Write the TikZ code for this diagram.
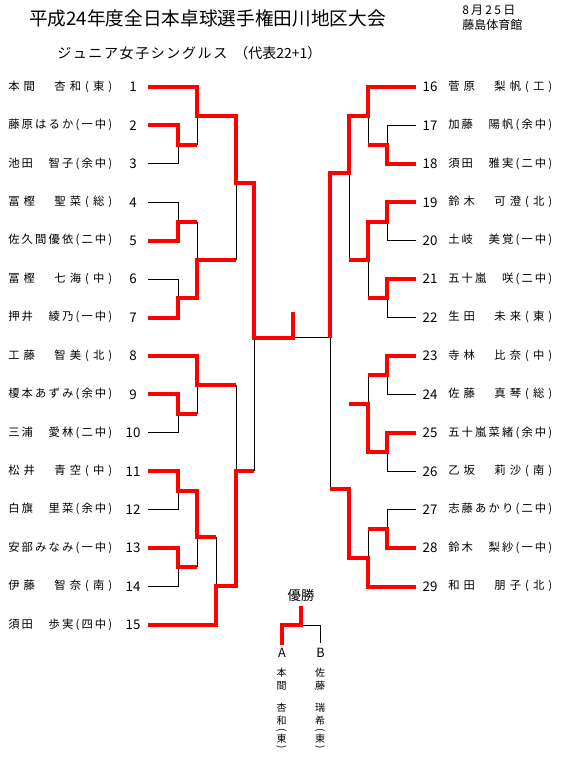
\documentclass[tikz,border=0pt]{standalone}
\usepackage{fontspec}
\newfontfamily\jp{Noto Sans CJK JP}
\newdimen\pxu \pxu=0.75pt
\def\sprloop#1{\ifx#1\relax\else#1\hfil\expandafter\sprloop\fi}
\newcommand\spreadbox[2]{\hbox to #1\pxu{\expandafter\sprloop#2\relax\hskip 0pt plus -1fil}}
\tikzset{
  nm/.style={anchor=west, inner sep=0pt, font=\jp\fontsize{8.5}{9}\selectfont},
  numtxt/.style={inner sep=0pt, font=\jp\fontsize{10}{11}\selectfont},
  redline/.style={line width=3pt, red},
  bline/.style={line width=0.75pt, black},
  vch/.style={inner sep=0pt, font=\jp\fontsize{7.5}{8}\selectfont},
}
\begin{document}
\begin{tikzpicture}[x=0.75pt,y=-0.75pt]
\useasboundingbox (0,0) rectangle (582,765);
\fill[white] (0,0) rectangle (582,765);

% headings
\node[anchor=west, inner sep=0pt, font=\jp\fontsize{14}{15}\selectfont] (title) at (29,18)
  {平成24年度全日本卓球選手権田川地区大会};
\node[anchor=west, inner sep=0pt, font=\jp\fontsize{9}{10}\selectfont] (date) at (462,10) {\spreadbox{53}{8月25日}};
\node[anchor=west, inner sep=0pt, font=\jp\fontsize{9}{10}\selectfont] (venue) at (462,25) {\spreadbox{60}{藤島体育館}};
\node[anchor=west, inner sep=0pt, font=\jp\fontsize{10.5}{12}\selectfont] (sub1) at (57,53) {\spreadbox{170}{ジュニア女子シングルス}};
\node[anchor=west, inner sep=0pt, font=\jp\fontsize{10.5}{12}\selectfont] (sub2) at (234,53) {（代表22+1）};

% left players
\foreach \i/\nme in {1/本間　杏和(東),2/藤原はるか(一中),3/池田　智子(余中),4/冨樫　聖菜(総),5/佐久間優依(二中),6/冨樫　七海(中),7/押井　綾乃(一中),8/工藤　智美(北),9/榎本あずみ(余中),10/三浦　愛林(二中),11/松井　青空(中),12/白旗　里菜(余中),13/安部みなみ(一中),14/伊藤　智奈(南),15/須田　歩実(四中)}{
  \node[nm] (n\i) at (8,{86.5+(\i-1)*38.43}) {\spreadbox{104}{\nme}};
  \node[numtxt] (k\i) at (133,{87+(\i-1)*38.43}) {\i};
  \coordinate (L\i) at (148,{87+(\i-1)*38.43});
}
% right players
\foreach \i/\nme in {16/菅原　梨帆(工),17/加藤　陽帆(余中),18/須田　雅実(二中),19/鈴木　可澄(北),20/土岐　美覚(一中),21/五十嵐　咲(二中),22/生田　未来(東),23/寺林　比奈(中),24/佐藤　真琴(総),25/五十嵐菜緒(余中),26/乙坂　莉沙(南),27/志藤あかり(二中),28/鈴木　梨紗(一中),29/和田　朋子(北)}{
  \node[nm] (n\i) at (448,{86.5+(\i-16)*38.43}) {\spreadbox{104}{\nme}};
  \node[numtxt] (k\i) at (430,{87+(\i-16)*38.43}) {\i};
  \coordinate (R\i) at (416,{87+(\i-16)*38.43});
}

% left match points
\coordinate (a1) at (178,144.6);
\coordinate (a2) at (178,221.5);
\coordinate (a3) at (178,298.4);
\coordinate (a4) at (178,413.6);
\coordinate (a5) at (178,490.5);
\coordinate (a6) at (178,567.4);
\coordinate (b1) at (197,115.8);
\coordinate (b2) at (197,260);
\coordinate (b3) at (197,384.8);
\coordinate (b4) at (197,537);
\coordinate (c1) at (216,586);
\coordinate (d1) at (236,183);
\coordinate (d2) at (236,470.7);
\coordinate (e1) at (254,337.5);
\coordinate (F) at (293,337.5);
\coordinate (Ftop) at (293,312);
% right match points
\coordinate (ra1) at (387,144.6);
\coordinate (ra2) at (387,221.5);
\coordinate (ra3) at (387,298.4);
\coordinate (ra4) at (387,375.2);
\coordinate (ra5) at (387,452.1);
\coordinate (ra6) at (387,528.9);
\coordinate (rb1) at (368,115.8);
\coordinate (rb2) at (368,260);
\coordinate (rb3) at (368,404);
\coordinate (rb4) at (368,557.8);
\coordinate (rc1) at (349,173);
\coordinate (rc2) at (349,489);
\coordinate (rd1) at (330,337.5);

% black (lost) lines, left
\draw[bline] (L3) -| (a1);
\draw[bline] (L4) -| (a2);
\draw[bline] (L6) -| (a3);
\draw[bline] (L10) -| (a4);
\draw[bline] (L12) -| (a5);
\draw[bline] (L14) -| (a6);
\draw[bline] (a1 -| b1) -- (b1);
\draw[bline] (a2 -| b2) -- (b2);
\draw[bline] (a4 -| b3) -- (b3);
\draw[bline] (a6 -| b4) -- (b4);
\draw[bline] (b4 -| c1) -- (c1);
\draw[bline] (b2 -| d1) -- (d1);
\draw[bline] (b3 -| d2) -- (d2);
\draw[bline] (d2 -| e1) -- (e1);
\draw[bline] (F) -- (rd1);
% black (lost) lines, right
\draw[bline] (R17) -| (ra1);
\draw[bline] (R20) -| (ra2);
\draw[bline] (R22) -| (ra3);
\draw[bline] (R24) -| (ra4);
\draw[bline] (R26) -| (ra5);
\draw[bline] (R27) -| (ra6);
\draw[bline] (ra1 -| rb1) -- (rb1);
\draw[bline] (ra3 -| rb2) -- (rb2);
\draw[bline] (ra4 -| rb3) -- (rb3);
\draw[bline] (ra6 -| rb4) -- (rb4);
\draw[bline] (rb2 -| rc1) -- (rc1);
\draw[bline] (rc2 -| rd1) -- (rd1);

% red (winning) lines, left
\draw[redline] (L1) -| (b1) -| (d1) -| (e1) -- (F) -- (Ftop);
\draw[redline] (L2) -| (a1) -- (a1 -| b1);
\draw[redline] (L5) -| (a2) -- (a2 -| b2);
\draw[redline] (L7) -| (a3) -| (b2) -- (b2 -| d1);
\draw[redline] (L8) -| (b3) -- (b3 -| d2);
\draw[redline] (L9) -| (a4) -- (a4 -| b3);
\draw[redline] (L11) -| (a5) -| (b4) -- (b4 -| c1);
\draw[redline] (L13) -| (a6) -- (a6 -| b4);
\draw[redline] (L15) -| (c1) -| (d2) -- (d2 -| e1);
% red (winning) lines, right
\draw[redline] (R16) -| (rb1) -| (rc1) -| (rd1);
\draw[redline] (R18) -| (ra1) -- (ra1 -| rb1);
\draw[redline] (R19) -| (ra2) -| (rb2) -- (rb2 -| rc1);
\draw[redline] (R21) -| (ra3) -- (ra3 -| rb2);
\draw[redline] (R23) -| (ra4) -- (ra4 -| rb3);
\draw[redline] (R25) -| (ra5) -| (rb3) -- (rb3 -| rc2);
\draw[redline] (R28) -| (ra6) -- (ra6 -| rb4);
\draw[redline] (R29) -| (rb4) -| (rc2) -- (rc2 -| rd1);

% final playoff
\node[inner sep=0pt, font=\jp\fontsize{10}{11}\selectfont] (yusho) at (301,595) {優勝};
\coordinate (W) at (301,606);
\coordinate (WJ) at (301,625);
\coordinate (Aend) at (282,645);
\coordinate (Bend) at (320,643);
\draw[bline] (WJ) -| (Bend);
\draw[redline] (W) -- (WJ) -| (Aend);
\node[inner sep=0pt, font=\jp\fontsize{9.5}{10}\selectfont] (lA) at (282,653) {A};
\node[inner sep=0pt, font=\jp\fontsize{9.5}{10}\selectfont] (lB) at (320.5,653) {B};
\foreach \ch/\yy [count=\k] in {本/672.5,間/686,杏/707.5,和/720.5,東/739}{
  \node[vch] (va\k) at (281.5,\yy) {\ch};
}
\foreach \ch/\yy [count=\k] in {佐/672.5,藤/686,瑞/707.5,希/720.5,東/739}{
  \node[vch] (vb\k) at (320,\yy) {\ch};
}
\node[vch, rotate=-90] (vaop) at (281.5,730.5) {(};
\node[vch, rotate=-90] (vacp) at (281.5,747.5) {)};
\node[vch, rotate=-90] (vbop) at (320,730.5) {(};
\node[vch, rotate=-90] (vbcp) at (320,747.5) {)};
\end{tikzpicture}
\end{document}
